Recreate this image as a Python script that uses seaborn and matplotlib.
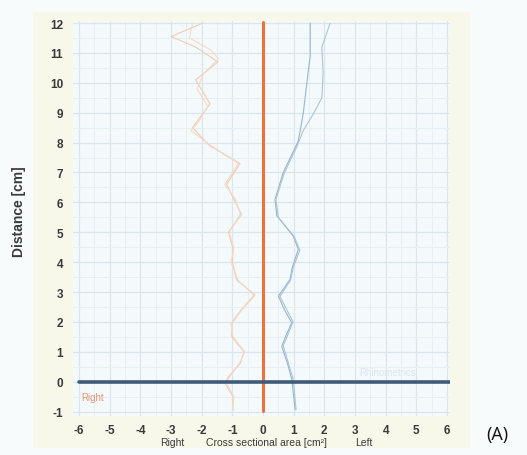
import matplotlib
matplotlib.use("Agg")
import matplotlib.pyplot as plt
import matplotlib.patches as mpatches
import numpy as np
import seaborn as sns

# Right side (orange) profiles, distance in cm vs area in cm^2 (negative = right)
right1_dist = [12.0, 11.55, 11.2, 10.7, 10.1, 9.3, 8.5, 7.9, 7.3, 6.6, 6.1, 5.6, 5.0,
               4.45, 4.0, 3.4, 2.9, 2.4, 1.95, 1.5, 1.0, 0.6, 0.15, -0.05, -0.5, -0.95]
right1_area = [-1.96, -3.0, -2.2, -1.47, -2.2, -1.73, -2.3, -1.75, -0.75, -1.19, -0.95,
               -0.70, -1.13, -0.98, -1.0, -0.86, -0.26, -0.7, -1.02, -1.02, -0.62, -0.75,
               -1.14, -1.24, -0.98, -0.98]
right2_dist = [12.0, 11.5, 11.1, 10.8, 10.3, 9.8, 9.2, 8.7, 8.4, 7.9, 7.3, 6.6, 6.1, 5.6,
               5.0, 4.45, 4.0, 3.4, 2.9, 2.4, 1.95, 1.5, 1.0, 0.6, 0.15, -0.05, -0.5, -0.95]
right2_area = [-2.3, -2.4, -1.7, -1.45, -1.95, -2.15, -1.8, -2.1, -2.35, -1.7, -0.8,
               -1.25, -0.9, -0.74, -1.1, -0.95, -1.05, -0.82, -0.3, -0.72, -1.05, -0.98,
               -0.6, -0.78, -1.1, -1.2, -0.95, -1.0]

# Left side (blue) profiles
left1_dist = [12.0, 10.9, 10.0, 8.96, 8.05, 7.0, 6.1, 5.55, 4.88, 4.43, 3.8, 3.42, 2.86,
              2.4, 1.97, 1.55, 1.18, 0.6, 0.07, -0.5, -0.94]
left1_area = [1.54, 1.54, 1.43, 1.31, 1.15, 0.66, 0.39, 0.45, 0.98, 1.15, 0.95, 0.88, 0.5,
              0.7, 0.94, 0.75, 0.61, 0.8, 0.94, 1.0, 1.05]
left2_dist = [12.0, 11.2, 10.3, 9.5, 8.96, 8.4, 7.85, 7.0, 6.1, 5.5, 4.85, 4.4, 3.8, 3.4,
              2.85, 2.0, 1.2, 0.1, -0.94]
left2_area = [2.19, 1.92, 1.96, 1.92, 1.64, 1.31, 1.1, 0.7, 0.42, 0.5, 1.02, 1.2, 0.98,
              0.9, 0.55, 0.98, 0.66, 0.98, 1.08]

x_ticks = [-6, -5, -4, -3, -2, -1, 0, 1, 2, 3, 4, 5, 6]
y_ticks = [-1, 0, 1, 2, 3, 4, 5, 6, 7, 8, 9, 10, 11, 12]

sns.set_style("white")
plt.rcParams['font.family'] = ['Liberation Sans', 'DejaVu Sans']
plt.rcParams['axes.unicode_minus'] = False

fig = plt.figure(figsize=(5.27, 4.56), dpi=100)
fig.patch.set_facecolor("#f8fbfc")
# cream scan background behind the chart
fig.patches.append(mpatches.Rectangle((33 / 527, 1 - 449 / 456), 437 / 527, 436 / 456,
                                      transform=fig.transFigure, facecolor="#f7f7ea",
                                      edgecolor="none", zorder=-5))

ax = fig.add_axes([73 / 527, 39 / 456, 377 / 527, 395 / 456])
ax.set_zorder(2)
ax.set_facecolor("#f4f9fb")

ax.set_xlim(-6.2, 6.1)
ax.set_ylim(-1.15, 12.07)
ax.set_xticks(x_ticks)
ax.set_yticks(y_ticks)
ax.set_xticks(np.arange(-6, 6.01, 0.5), minor=True)
ax.set_yticks(np.arange(-1, 12.01, 0.5), minor=True)
ax.grid(which="major", color="#dbe6ec", lw=0.9)
ax.grid(which="minor", color="#e7eff3", lw=0.7)
ax.set_axisbelow(True)
for s in ax.spines.values():
    s.set_visible(False)
ax.tick_params(which="both", length=0)
ax.tick_params(axis="y", pad=7, labelsize=8.5, labelcolor="#3a3a3a")
ax.tick_params(axis="x", pad=6, labelsize=8.5, labelcolor="#3a3a3a")
for lab in ax.get_xticklabels() + ax.get_yticklabels():
    lab.set_fontweight("bold")

for dist, area, col in [(right1_dist, right1_area, "#f2ccb0"),
                        (right2_dist, right2_area, "#f5dac6"),
                        (left1_dist, left1_area, "#98b6cc"),
                        (left2_dist, left2_area, "#adc4d5")]:
    sns.lineplot(x=area, y=dist, sort=False, orient="y", color=col, lw=0.8, ax=ax)

# midline and baseline
sns.lineplot(x=[0, 0], y=[12.05, -0.97], sort=False, orient="y", color="#e8743c", lw=2.2, ax=ax)
sns.lineplot(x=[-6.0, 6.1], y=[0, 0], sort=False, color="#3f5b7a", lw=2.6, ax=ax)

ax.text(-5.93, -0.53, "Right", color="#e89574", fontsize=7, va="center", ha="left")
ax.text(4.07, 0.33, "Rhinometrics", color="#dde6ee", fontsize=7, va="center", ha="center")

ax.set_xlabel("")
ax.set_ylabel("Distance [cm]", fontsize=10, fontweight="bold", color="#3a3a3a")
ax.yaxis.set_label_coords(-0.125, 0.52)

fig.text(172 / 527, 1 - 443 / 456, "Right", fontsize=7.5, color="#3a3a3a", ha="center", va="center")
fig.text(266 / 527, 1 - 443 / 456, "Cross sectional area [cm²]", fontsize=7.5, color="#3a3a3a",
         ha="center", va="center")
fig.text(364 / 527, 1 - 443 / 456, "Left", fontsize=7.5, color="#3a3a3a", ha="center", va="center")
fig.text(497 / 527, 1 - 435 / 456, "(A)", fontsize=13, color="#111111", ha="center", va="center",
         family=["Open Sans", "DejaVu Sans"])

fig.savefig("out.png", dpi=100, facecolor=fig.get_facecolor())
